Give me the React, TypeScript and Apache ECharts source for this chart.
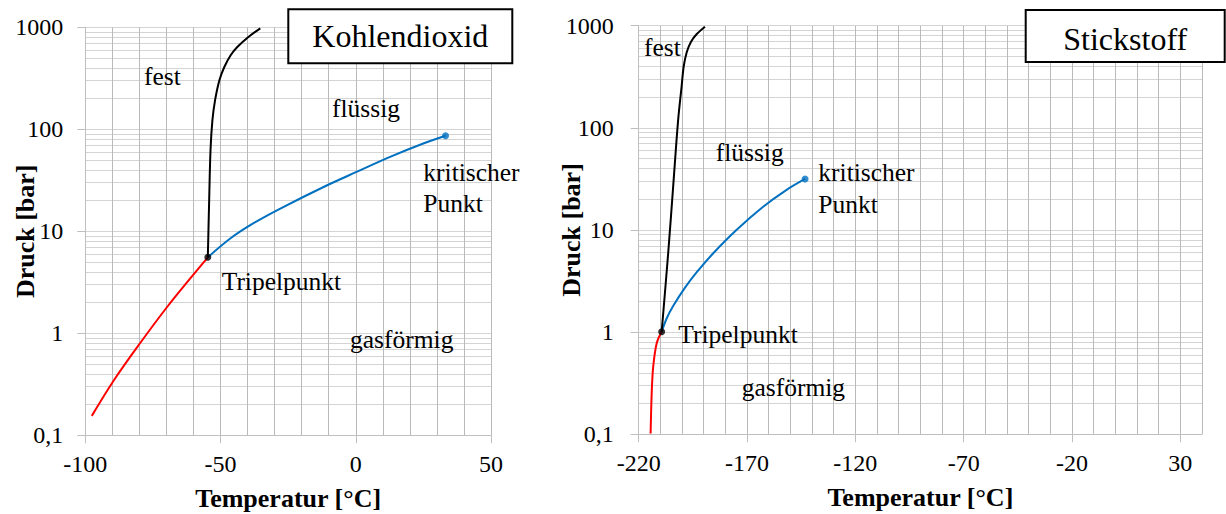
import React, { useEffect, useRef } from 'react';
import * as echarts from 'echarts';

// ---- Data ----
const co2Sublimation: [number, number][] = [
  [-97.6, 0.155], [-89.6, 0.341], [-79.7, 0.803], [-69.9, 1.79], [-61.2, 3.45], [-54.7, 5.56],
];
const co2Melting: [number, number][] = [
  [-54.7, 5.56], [-54.2, 20.3], [-53.7, 62.7], [-53.0, 123], [-52.0, 194], [-50.4, 304],
  [-48.6, 408], [-46.2, 535], [-43.8, 641], [-39.7, 803], [-35.3, 977],
];
const co2Vaporization: [number, number][] = [
  [-54.7, 5.56], [-46.4, 8.5], [-37.8, 12.0], [-27.9, 16.7], [-11.9, 27.2], [0.5, 38.4],
  [12.9, 53.9], [25.2, 72.9], [33.2, 86.5],
];
const co2Triple: [number, number][] = [[-54.7, 5.56]];
const co2Critical: [number, number][] = [[33.2, 86.5]];

const n2Sublimation: [number, number][] = [
  [-214.5, 0.102], [-214.0, 0.252], [-213.3, 0.459], [-211.7, 0.778], [-209.4, 1.01],
];
const n2Melting: [number, number][] = [
  [-209.4, 1.01], [-206.4, 5.91], [-204.1, 26.5], [-201.8, 119], [-200.2, 253], [-199.2, 403],
  [-197.8, 553], [-195.9, 693], [-193.2, 829], [-189.4, 978],
];
const n2Vaporization: [number, number][] = [
  [-209.4, 1.01], [-207.0, 1.375], [-204.1, 1.80], [-198.7, 2.71], [-193.3, 3.84], [-185.7, 5.89],
  [-174.9, 10.0], [-162.7, 16.8], [-151.9, 24.6], [-143.2, 31.6],
];
const n2Triple: [number, number][] = [[-209.4, 1.01]];
const n2Critical: [number, number][] = [[-143.2, 31.6]];

const co2TempTicks = [-100, -50, 0, 50];
const n2TempTicks = [-220, -170, -120, -70, -20, 30];
const co2TempGrid = [-90, -80, -70, -60, -50, -40, -30, -20, -10, 0, 10, 20, 30, 40, 50];
const n2TempGrid = [
  -210, -200, -190, -180, -170, -160, -150, -140, -130, -120, -110, -100, -90, -80,
  -70, -60, -50, -40, -30, -20, -10, 0, 10, 20, 30, 40,
];
const minorPressure = [
  0.2, 0.3, 0.4, 0.5, 0.6, 0.7, 0.8, 0.9,
  2, 3, 4, 5, 6, 7, 8, 9,
  20, 30, 40, 50, 60, 70, 80, 90,
  200, 300, 400, 500, 600, 700, 800, 900,
];

const serif = '"Liberation Serif", "Times New Roman", serif';
const GRID_COLOR = '#d4d4d4';
const VGRID_COLOR = '#bababa';
const AXIS_COLOR = '#bfbfbf';
const BLUE = '#0070c0';
const RED = '#ff0000';

function makeXAxis(gridIndex: number, min: number, max: number, ticks: number[]) {
  return {
    type: 'value', gridIndex, min, max, interval: 10,
    axisLine: { show: true, onZero: false, lineStyle: { color: AXIS_COLOR, width: 1 } },
    axisTick: { show: true, customValues: ticks, length: 8, lineStyle: { color: AXIS_COLOR } },
    axisLabel: { customValues: ticks, margin: 17, color: '#000', fontFamily: serif, fontSize: 24 },
    splitLine: { show: false },
    name: 'Temperatur [°C]', nameLocation: 'middle', nameGap: 50,
    nameTextStyle: { fontFamily: serif, fontWeight: 'bold', fontSize: 26, color: '#000' },
  };
}

function makeYAxis(gridIndex: number, margin: number, nameGap: number) {
  return {
    type: 'log', logBase: 10, gridIndex, min: 0.1, max: 1000,
    axisLine: { show: true, onZero: false, lineStyle: { color: AXIS_COLOR, width: 1 } },
    axisTick: { show: true, length: 8, lineStyle: { color: AXIS_COLOR } },
    axisLabel: {
      margin, color: '#000', fontFamily: serif, fontSize: 24,
      formatter: (v: number) => String(v).replace('.', ','),
    },
    splitLine: { show: true, lineStyle: { color: GRID_COLOR, width: 1 } },
    minorSplitLine: { show: false },
    name: 'Druck [bar]', nameLocation: 'middle', nameGap, nameMoveOverlap: false,
    nameTextStyle: { fontFamily: serif, fontWeight: 'bold', fontSize: 26, color: '#000' },
  };
}

function gridSeries(idx: number, temps: number[]) {
  return {
    type: 'line', xAxisIndex: idx, yAxisIndex: idx, data: [], silent: true, z: 0,
    markLine: {
      silent: true, z: 0, symbol: ['none', 'none'], label: { show: false },
      lineStyle: { color: GRID_COLOR, width: 1, type: 'solid' },
      emphasis: { disabled: true },
      data: [
        ...minorPressure.map((v) => ({ yAxis: v })),
        ...temps.map((v) => ({ xAxis: v, lineStyle: { color: VGRID_COLOR, width: 1, type: 'solid' } })),
      ],
    },
  };
}

function curve(idx: number, data: [number, number][], color: string) {
  return {
    type: 'line', xAxisIndex: idx, yAxisIndex: idx, data, smooth: 0.35, showSymbol: false,
    symbol: 'none', lineStyle: { color, width: 2 }, z: 10, silent: true,
  };
}

function dot(idx: number, data: [number, number][], color: string) {
  return {
    type: 'scatter', xAxisIndex: idx, yAxisIndex: idx, data, symbolSize: 7,
    itemStyle: { color }, z: 11, silent: true,
  };
}

function label(text: string, x: number, y: number) {
  return {
    type: 'text', x, y, z: 10,
    style: { text, fontFamily: serif, fontSize: 25.5, fill: '#000', align: 'left', verticalAlign: 'middle' },
  };
}

function titleBox(text: string, x: number, y: number, w: number, h: number, cy: number) {
  return [
    {
      type: 'rect', x, y, z: 20, shape: { x: 0, y: 0, width: w, height: h },
      style: { fill: '#fff', stroke: '#000', lineWidth: 2 },
    },
    {
      type: 'text', x: x + w / 2, y: cy, z: 21,
      style: { text, fontFamily: serif, fontSize: 32, fill: '#000', align: 'center', verticalAlign: 'middle' },
    },
  ];
}

export default function App() {
  const ref = useRef<HTMLDivElement>(null);
  useEffect(() => {
    if (!ref.current) return;
    const chart = echarts.init(ref.current, undefined, { renderer: 'svg' });
    chart.setOption({
      animation: false,
      backgroundColor: '#fff',
      grid: [
        { left: 85.3, top: 27.3, width: 405.7, height: 408, outerBoundsMode: 'none', containLabel: false },
        { left: 638.7, top: 25.7, width: 563.3, height: 408.6, outerBoundsMode: 'none', containLabel: false },
      ],
      xAxis: [makeXAxis(0, -100, 50, co2TempTicks), makeXAxis(1, -220, 40, n2TempTicks)],
      yAxis: [makeYAxis(0, 22, 47), makeYAxis(1, 25, 54)],
      series: [
        gridSeries(0, co2TempGrid),
        gridSeries(1, n2TempGrid),
        curve(0, co2Sublimation, RED),
        curve(0, co2Vaporization, BLUE),
        curve(0, co2Melting, '#000'),
        dot(0, co2Triple, '#000'),
        dot(0, co2Critical, BLUE),
        curve(1, n2Sublimation, RED),
        curve(1, n2Vaporization, BLUE),
        curve(1, n2Melting, '#000'),
        dot(1, n2Triple, '#000'),
        dot(1, n2Critical, BLUE),
      ],
      graphic: [
        label('fest', 144, 76.5),
        label('flüssig', 332, 108),
        label('kritischer', 423.3, 172.5),
        label('Punkt', 423.3, 203.5),
        label('Tripelpunkt', 221.7, 281.5),
        label('gasförmig', 350, 339.5),
        label('fest', 644, 47.5),
        label('flüssig', 715.7, 152.5),
        label('kritischer', 818.3, 172.5),
        label('Punkt', 818.3, 204),
        label('Tripelpunkt', 678.3, 334),
        label('gasförmig', 741.7, 387.5),
        ...titleBox('Kohlendioxid', 288.3, 9.3, 224, 54, 36),
        ...titleBox('Stickstoff', 1025.7, 10, 199, 52, 39),
      ],
    });
    return () => chart.dispose();
  }, []);
  return <div ref={ref} style={{ position: 'absolute', left: 0, top: 0, width: 1226, height: 514 }} />;
}
